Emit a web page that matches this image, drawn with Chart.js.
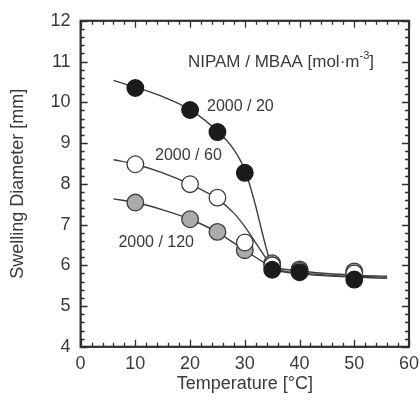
<!DOCTYPE html>
<html>
<head>
<meta charset="utf-8">
<script src="https://cdn.jsdelivr.net/npm/chart.js@4/dist/chart.umd.min.js"></script>
<style>
html,body{margin:0;padding:0;background:#fff;}
#wrap{width:420px;height:403px;}
</style>
</head>
<body>
<div id="wrap"><canvas id="c" width="420" height="403"></canvas></div>
<script>
// Measured temperatures [°C]
const temps = [10, 20, 25, 30, 35, 40, 50];
// Swelling diameter [mm] per NIPAM / MBAA ratio
const d2000_20  = [10.35, 9.81, 9.27, 8.27, 5.89, 5.83, 5.65];
const d2000_60  = [8.48, 7.99, 7.66, 6.56, 6.00, 5.86, 5.80];
const d2000_120 = [7.54, 7.13, 6.82, 6.37, 6.05, 5.90, 5.85];
// Fitted curves (x = temperature, y = diameter)
const fit20x  = [6, 10, 15, 20, 25, 28, 30, 32, 33, 34, 35, 37, 40, 45, 50, 56];
const fit20y  = [10.54, 10.37, 10.14, 9.82, 9.29, 8.84, 8.34, 7.45, 6.9, 6.38, 5.95, 5.84, 5.79, 5.74, 5.71, 5.68];
const fit60x  = [6, 10, 15, 20, 25, 28, 30, 32, 34, 35, 37, 40, 45, 50, 56];
const fit60y  = [8.59, 8.48, 8.27, 7.99, 7.63, 7.28, 6.95, 6.55, 6.15, 5.96, 5.86, 5.81, 5.76, 5.73, 5.71];
const fit120x = [6, 10, 15, 20, 25, 30, 35, 40, 45, 50, 56];
const fit120y = [7.63, 7.54, 7.36, 7.13, 6.81, 6.37, 5.97, 5.86, 5.8, 5.76, 5.73];
const xTicks = [0, 10, 20, 30, 40, 50, 60];
const yTicks = [4, 5, 6, 7, 8, 9, 10, 11, 12];
const seriesLabels = ['2000 / 20', '2000 / 60', '2000 / 120'];

const pts = (xs, ys) => xs.map((x, i) => ({x: x, y: ys[i]}));
const FONT = "'Liberation Sans', Arial, sans-serif";
const TXT = '#3a3a3a';

function curve(xs, ys) {
  return {type: 'line', data: pts(xs, ys), borderColor: '#3c3c3c', borderWidth: 1.4,
    pointRadius: 0, fill: false, cubicInterpolationMode: 'monotone', order: 10};
}
function marks(ys, fill, border, ord) {
  return {type: 'scatter', data: pts(temps, ys), backgroundColor: fill, borderColor: border,
    borderWidth: 1.3, pointRadius: 8.3, pointHoverRadius: 8.3, showLine: false, order: ord};
}

const framePlugin = {
  id: 'frame',
  beforeDatasetsDraw(chart) {
    const {ctx, chartArea: a, scales: {x, y}} = chart;
    ctx.save();
    ctx.strokeStyle = '#2e2e2e';
    ctx.lineWidth = 1.3;
    // minor + major ticks, inward, on all four sides
    for (let v = 0; v <= 60.001; v += 2) {
      const px = Math.round(x.getPixelForValue(v)) + 0.5;
      const len = (Math.abs(v % 10) < 1e-6) ? 7 : 4;
      ctx.beginPath();
      ctx.moveTo(px, a.bottom); ctx.lineTo(px, a.bottom - len);
      ctx.moveTo(px, a.top); ctx.lineTo(px, a.top + len);
      ctx.stroke();
    }
    for (let i = 0; i <= 40; i++) {
      const v = 4 + i * 0.2;
      const py = Math.round(y.getPixelForValue(v)) + 0.5;
      const len = (i % 5 === 0) ? 7 : 4;
      ctx.beginPath();
      ctx.moveTo(a.left, py); ctx.lineTo(a.left + len, py);
      ctx.moveTo(a.right, py); ctx.lineTo(a.right - len, py);
      ctx.stroke();
    }
    ctx.lineWidth = 2.2;
    ctx.strokeRect(a.left, a.top, a.right - a.left, a.bottom - a.top);
    ctx.restore();
  },
  afterDatasetsDraw(chart) {
    const {ctx, scales: {x, y}} = chart;
    ctx.save();
    ctx.fillStyle = TXT;
    ctx.textBaseline = 'middle';
    ctx.textAlign = 'left';
    ctx.font = '16px ' + FONT;
    ctx.fillText(seriesLabels[0], x.getPixelForValue(23.1), y.getPixelForValue(9.9));
    ctx.fillText(seriesLabels[1], x.getPixelForValue(13.6), y.getPixelForValue(8.68));
    ctx.fillText(seriesLabels[2], x.getPixelForValue(6.9), y.getPixelForValue(6.55));
    // header
    ctx.font = '17px ' + FONT;
    let hx = x.getPixelForValue(19.6), hy = y.getPixelForValue(10.98);
    const main = 'NIPAM / MBAA [mol\u00B7m';
    ctx.fillText(main, hx, hy);
    hx += ctx.measureText(main).width;
    ctx.font = '11px ' + FONT;
    ctx.fillText('-3', hx, hy - 6);
    hx += ctx.measureText('-3').width;
    ctx.font = '17px ' + FONT;
    ctx.fillText(']', hx, hy);
    ctx.restore();
  }
};

new Chart(document.getElementById('c'), {
  data: {
    datasets: [
      curve(fit20x, fit20y),
      curve(fit60x, fit60y),
      curve(fit120x, fit120y),
      marks(d2000_120, '#ababab', '#3a3a3a', 3),
      marks(d2000_60, '#ffffff', '#3a3a3a', 2),
      marks(d2000_20, '#1b1b1b', '#1b1b1b', 1)
    ]
  },
  options: {
    responsive: false,
    animation: false,
    devicePixelRatio: 1,
    layout: {padding: {top: 9, right: 0, bottom: 8, left: 7}},
    plugins: {legend: {display: false}, tooltip: {enabled: false}},
    scales: {
      x: {
        type: 'linear', min: 0, max: 60,
        afterBuildTicks: s => { s.ticks = xTicks.map(v => ({value: v})); },
        grid: {display: true, drawOnChartArea: false, drawTicks: true, tickLength: 5,
          color: 'rgba(0,0,0,0)'},
        border: {display: false},
        ticks: {color: TXT, font: {size: 18, family: FONT}, padding: 1, maxRotation: 0},
        title: {display: true, text: 'Temperature [\u00B0C]', color: TXT,
          font: {size: 18, family: FONT}, padding: {top: -2, bottom: 0}}
      },
      y: {
        type: 'linear', min: 4, max: 12,
        afterBuildTicks: s => { s.ticks = yTicks.map(v => ({value: v})); },
        grid: {display: false, drawTicks: false},
        border: {display: false},
        ticks: {color: TXT, font: {size: 18, family: FONT}, padding: 10},
        title: {display: true, text: 'Swelling Diameter [mm]', color: TXT,
          font: {size: 18, family: FONT}, padding: {top: 0, bottom: 12}}
      }
    }
  },
  plugins: [framePlugin]
});
</script>
</body>
</html>
